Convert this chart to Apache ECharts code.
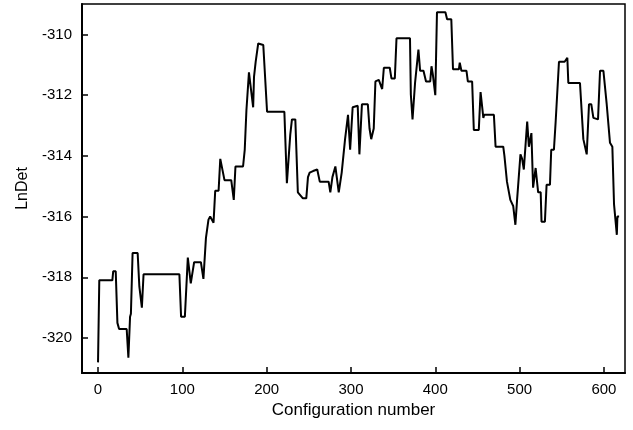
<!DOCTYPE html>
<html>
<head>
<meta charset="utf-8">
<script src="https://cdn.jsdelivr.net/npm/echarts@6/dist/echarts.min.js"></script>
<style>
html,body{margin:0;padding:0;background:#fff;}
#chart{width:633px;height:430px;}
</style>
</head>
<body>
<div id="chart"></div>
<script>
// Configuration number (x) and LnDet (y)
const configNumber = [
  0, 1.5, 17, 18, 21, 23, 25, 34, 36, 38, 39, 41, 47, 49, 52, 54,
  96.5, 98.5, 103, 106.5, 110, 114, 122, 125, 128, 131, 133, 137, 139, 143, 145, 150,
  158, 161, 163, 172, 174, 176, 179, 181, 184, 185, 187, 190, 196, 200.5,
  221, 224, 228, 230, 234, 237, 243, 247, 249, 251, 255, 260, 263, 273.5, 275.5, 278,
  281.5, 285.5, 289, 293, 296.5, 299, 302, 308, 310, 313, 320, 322, 324, 327, 329, 333,
  337, 339, 346, 348, 352, 354, 370, 371, 373, 376, 380, 382, 386, 389, 394, 395.5,
  397, 400, 402, 412, 414, 419, 421, 428, 429, 431, 437, 438.6, 443.7, 445.7, 451.6, 453.7,
  457, 458, 469.5, 471.5, 480.6, 482, 485, 487, 489, 492.4, 495, 497, 501, 503, 505, 509,
  511, 514, 516, 519, 522, 525, 526, 530, 532, 536, 537.5, 540.7, 542.7, 546.7, 553.4, 556.6,
  557.8, 571.6, 575.6, 579.6, 582.3, 585, 587.5, 593, 595.4, 599.4, 603.3, 607.2, 610, 612, 614, 615.3,
  616, 618
];
const lnDet = [
  -320.8, -318.1, -318.1, -317.8, -317.8, -319.5, -319.7, -319.7, -320.65, -319.3, -319.2, -317.2, -317.2, -318.3, -319.0, -317.9,
  -317.9, -319.3, -319.3, -317.35, -318.2, -317.5, -317.5, -318.05, -316.7, -316.1, -316.0, -316.2, -315.15, -315.15, -314.1, -314.8,
  -314.8, -315.45, -314.35, -314.35, -313.8, -312.5, -311.25, -311.3, -312.4, -311.4, -310.9, -310.3, -310.35, -312.55,
  -312.55, -314.9, -313.3, -312.8, -312.8, -315.2, -315.4, -315.4, -314.7, -314.55, -314.5, -314.45, -314.85, -314.85, -315.2, -314.7,
  -314.35, -315.2, -314.55, -313.45, -312.65, -313.8, -312.4, -312.35, -313.95, -312.3, -312.3, -313.1, -313.45, -313.1, -311.55, -311.5,
  -311.8, -311.1, -311.1, -311.45, -311.45, -310.13, -310.13, -311.98, -312.8, -311.6, -310.5, -311.2, -311.2, -311.55, -311.55, -311.05,
  -311.3, -312.0, -309.27, -309.27, -309.5, -309.5, -311.15, -311.15, -310.93, -311.2, -311.2, -311.55, -311.55, -313.15, -313.15, -311.9,
  -312.75, -312.65, -312.65, -313.7, -313.7, -314.0, -314.85, -314.85, -315.45, -315.65, -316.27, -315.45, -313.95, -314.1, -314.45, -312.87,
  -313.7, -313.25, -315.05, -314.4, -315.2, -315.2, -316.17, -316.17, -314.95, -314.95, -313.8, -313.8, -312.9, -310.9, -310.9, -310.77,
  -311.6, -311.6, -313.45, -313.95, -312.3, -312.3, -312.75, -312.8, -311.2, -311.2, -312.3, -313.57, -313.7, -315.6, -315.65, -316.6,
  -316.0, -316.0
];
const xTicks = [0, 100, 200, 300, 400, 500, 600];
const yTicks = [-320, -318, -316, -314, -312, -310];

const chart = echarts.init(document.getElementById('chart'), null, {renderer: 'canvas'});
const font = 'Liberation Sans, Arial, Helvetica, sans-serif';
chart.setOption({
  animation: false,
  backgroundColor: '#fff',
  grid: {left: 82, top: 4, width: 543, height: 369, show: true, borderColor: '#000', borderWidth: 1.5, backgroundColor: 'transparent'},
  xAxis: {
    type: 'value', min: -19, max: 625,
    name: 'Configuration number', nameLocation: 'middle', nameGap: 27,
    nameTextStyle: {fontFamily: font, fontSize: 17, color: '#000'},
    axisLine: {show: true, onZero: false, lineStyle: {color: '#000', width: 2}},
    axisTick: {show: true, inside: true, length: 6, customValues: xTicks, lineStyle: {color: '#000', width: 1.5}},
    axisLabel: {customValues: xTicks, margin: 9, fontFamily: font, fontSize: 15, color: '#000'},
    splitLine: {show: false}
  },
  yAxis: {
    type: 'value', min: -321.15, max: -309,
    name: 'LnDet', nameLocation: 'middle', nameGap: 46, nameRotate: 90,
    nameTextStyle: {fontFamily: font, fontSize: 16, color: '#000'},
    axisLine: {show: true, onZero: false, lineStyle: {color: '#000', width: 2}},
    axisTick: {show: true, inside: true, length: 6, customValues: yTicks, lineStyle: {color: '#000', width: 1.5}},
    axisLabel: {customValues: yTicks, margin: 10, fontFamily: font, fontSize: 15, color: '#000'},
    splitLine: {show: false}
  },
  series: [{
    type: 'line',
    data: configNumber.map((x, i) => [x, lnDet[i]]),
    showSymbol: false,
    lineStyle: {color: '#000', width: 2},
    clip: true
  }]
});
</script>
</body>
</html>
